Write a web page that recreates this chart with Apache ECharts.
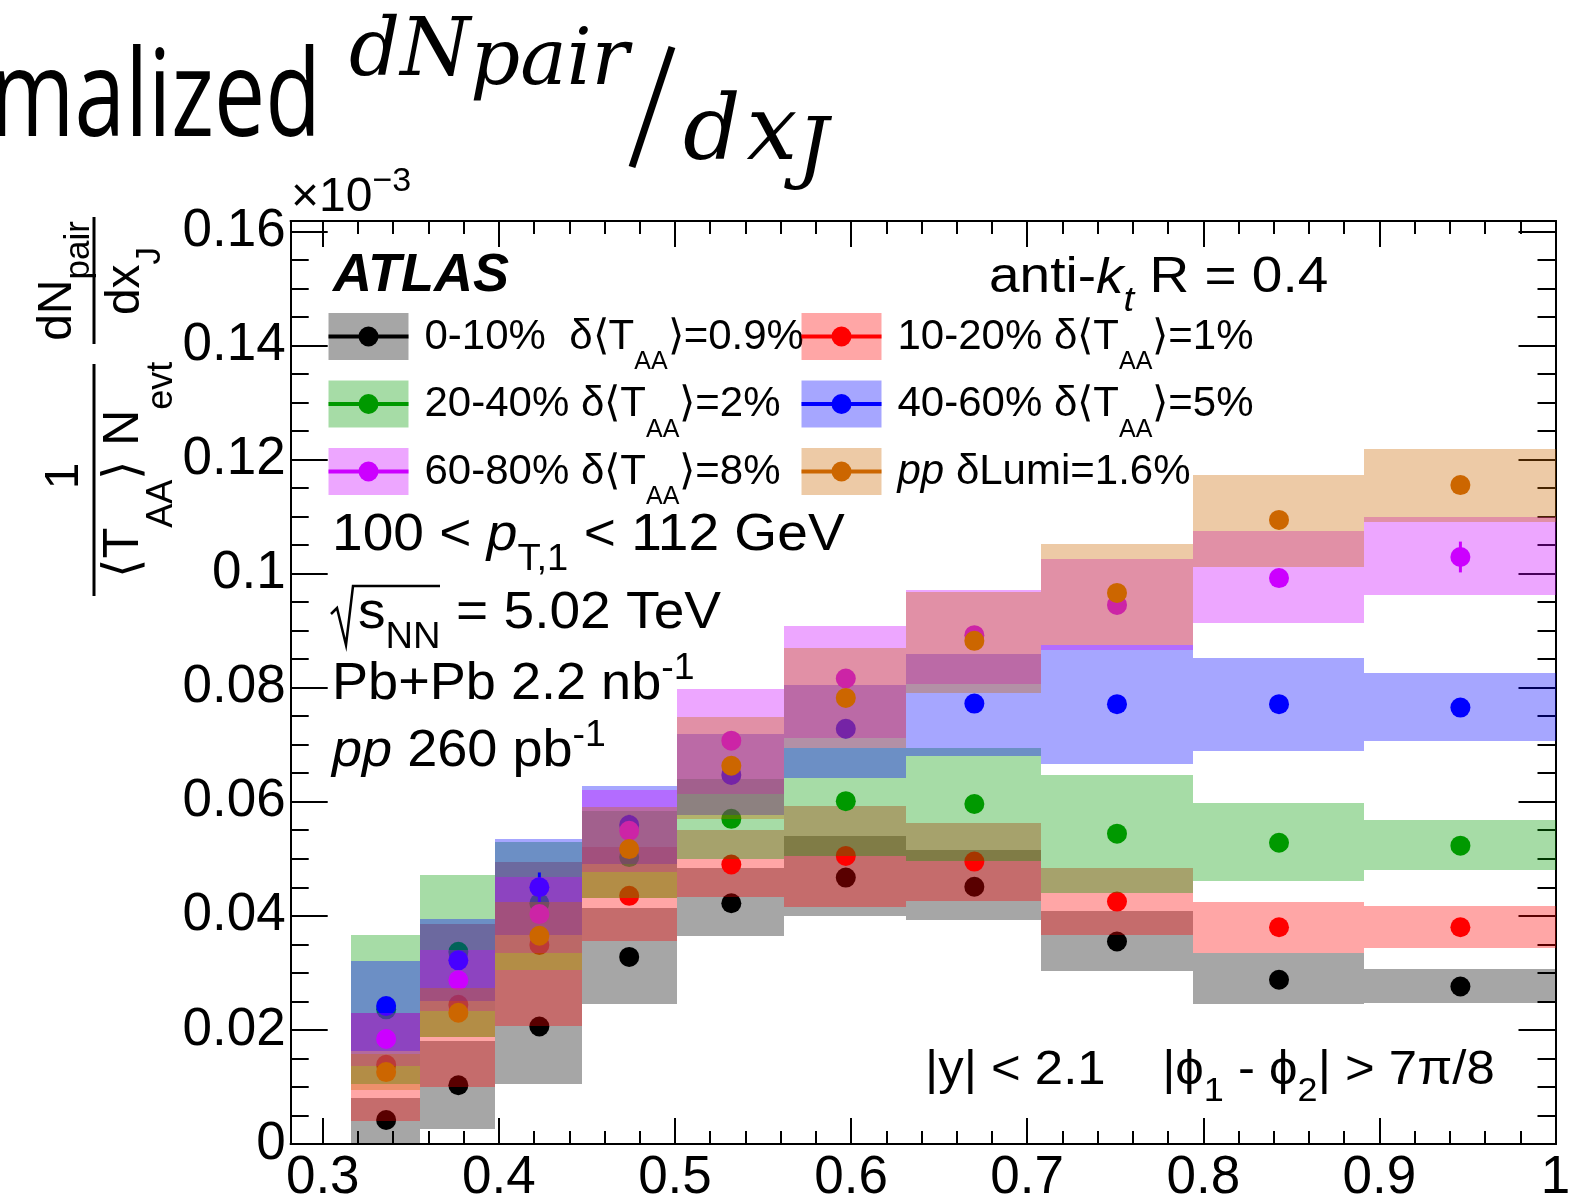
<!DOCTYPE html>
<html>
<head>
<meta charset="utf-8">
<script src="https://cdn.jsdelivr.net/npm/echarts@6/dist/echarts.min.js"></script>
<style>
html, body { margin: 0; padding: 0; background: #fff; }
#chart { width: 1585px; height: 1201px; }
</style>
</head>
<body>
<div id="chart"></div>
<script>
'use strict';

// x_J bins
var binLow    = [0.316, 0.355, 0.398, 0.447, 0.501, 0.562, 0.631, 0.708, 0.794, 0.891];
var binHigh   = [0.355, 0.398, 0.447, 0.501, 0.562, 0.631, 0.708, 0.794, 0.891, 1.000];
var binCenter = [0.336, 0.377, 0.423, 0.474, 0.532, 0.597, 0.670, 0.751, 0.843, 0.946];

// axis ticks
var xTicks      = [0.3, 0.4, 0.5, 0.6, 0.7, 0.8, 0.9, 1.0];
var xMinorTicks = [0.32, 0.34, 0.36, 0.38, 0.42, 0.44, 0.46, 0.48, 0.52, 0.54, 0.56, 0.58,
                   0.62, 0.64, 0.66, 0.68, 0.72, 0.74, 0.76, 0.78, 0.82, 0.84, 0.86, 0.88,
                   0.92, 0.94, 0.96, 0.98];
var yTicks      = [0, 0.02, 0.04, 0.06, 0.08, 0.1, 0.12, 0.14, 0.16];
var yMinorTicks = [0.005, 0.01, 0.015, 0.025, 0.03, 0.035, 0.045, 0.05, 0.055, 0.065, 0.07, 0.075,
                   0.085, 0.09, 0.095, 0.105, 0.11, 0.115, 0.125, 0.13, 0.135, 0.145, 0.15, 0.155];

// 0-10%
var val0_10  = [0.0042, 0.0103, 0.0206, 0.0328, 0.0422, 0.0467, 0.0451, 0.0355, 0.0288, 0.0276];
var low0_10  = [0.0002, 0.0027, 0.0105, 0.0245, 0.0365, 0.0400, 0.0393, 0.0303, 0.0246, 0.0247];
var high0_10 = [0.0080, 0.0181, 0.0305, 0.0413, 0.0484, 0.0540, 0.0515, 0.0409, 0.0334, 0.0307];
// 10-20%
var val10_20  = [0.0139, 0.0244, 0.0349, 0.0435, 0.0490, 0.0505, 0.0495, 0.0425, 0.0380, 0.0380];
var low10_20  = [0.0041, 0.0100, 0.0206, 0.0355, 0.0433, 0.0416, 0.0426, 0.0366, 0.0334, 0.0344];
var high10_20 = [0.0230, 0.0386, 0.0495, 0.0520, 0.0550, 0.0593, 0.0563, 0.0483, 0.0425, 0.0417];
// 20-40%
var val20_40  = [0.0236, 0.0337, 0.0422, 0.0503, 0.0570, 0.0601, 0.0596, 0.0544, 0.0528, 0.0523];
var low20_40  = [0.0105, 0.0187, 0.0305, 0.0431, 0.0499, 0.0505, 0.0496, 0.0440, 0.0461, 0.0481];
var high20_40 = [0.0366, 0.0471, 0.0529, 0.0584, 0.0639, 0.0695, 0.0695, 0.0647, 0.0597, 0.0568];
// 40-60%
var val40_60  = [0.0242, 0.0322, 0.0450, 0.0559, 0.0647, 0.0728, 0.0772, 0.0771, 0.0771, 0.0765];
var low40_60  = [0.0163, 0.0250, 0.0366, 0.0490, 0.0576, 0.0641, 0.0681, 0.0666, 0.0689, 0.0706];
var high40_60 = [0.0321, 0.0394, 0.0534, 0.0628, 0.0718, 0.0804, 0.0859, 0.0875, 0.0852, 0.0826];
var err40_60  = [0.0010, 0.0012, 0.0026, 0.0018, 0.0010, 0.0010, 0.0010, 0.0010, 0.0010, 0.0012];
// 60-80%
var val60_80  = [0.0184, 0.0287, 0.0403, 0.0549, 0.0707, 0.0816, 0.0892, 0.0945, 0.0992, 0.1029];
var low60_80  = [0.0136, 0.0234, 0.0335, 0.0476, 0.0613, 0.0712, 0.0806, 0.0866, 0.0914, 0.0962];
var high60_80 = [0.0230, 0.0340, 0.0468, 0.0620, 0.0797, 0.0908, 0.0972, 0.1025, 0.1074, 0.1099];
var err60_80  = [0.0010, 0.0012, 0.0014, 0.0012, 0.0010, 0.0010, 0.0010, 0.0012, 0.0014, 0.0027];
// pp
var valPP  = [0.0126, 0.0230, 0.0365, 0.0517, 0.0663, 0.0782, 0.0882, 0.0966, 0.1094, 0.1155];
var lowPP  = [0.0094, 0.0187, 0.0305, 0.0431, 0.0570, 0.0695, 0.0790, 0.0875, 0.1012, 0.1090];
var highPP = [0.0158, 0.0273, 0.0425, 0.0590, 0.0748, 0.0870, 0.0968, 0.1052, 0.1172, 0.1219];

var legendLabels = [
  '0-10%  δ⟨T_{AA}⟩=0.9%', '10-20% δ⟨T_{AA}⟩=1%', '20-40% δ⟨T_{AA}⟩=2%',
  '40-60% δ⟨T_{AA}⟩=5%', '60-80% δ⟨T_{AA}⟩=8%', '#it{pp} δLumi=1.6%'
];

var FONT = "'Liberation Sans', Arial, Helvetica, sans-serif";
var SERIF = "'DejaVu Serif', serif";

var sets = [
  { name: '0-10%',  val: val0_10,  low: low0_10,  high: high0_10,  err: null,     color: '#000000', band: 'rgba(0,0,0,0.35)',     col: 0, row: 0 },
  { name: '10-20%', val: val10_20, low: low10_20, high: high10_20, err: null,     color: '#ff0000', band: 'rgba(255,0,0,0.35)',   col: 1, row: 0 },
  { name: '20-40%', val: val20_40, low: low20_40, high: high20_40, err: null,     color: '#009900', band: 'rgba(0,154,0,0.35)',   col: 0, row: 1 },
  { name: '40-60%', val: val40_60, low: low40_60, high: high40_60, err: err40_60, color: '#0000ff', band: 'rgba(0,0,255,0.35)',   col: 1, row: 1 },
  { name: '60-80%', val: val60_80, low: low60_80, high: high60_80, err: err60_80, color: '#cc00ff', band: 'rgba(204,0,255,0.35)', col: 0, row: 2 },
  { name: 'pp',     val: valPP,    low: lowPP,    high: highPP,    err: null,     color: '#cc6600', band: 'rgba(204,102,0,0.35)', col: 1, row: 2 }
];

// tiny TLatex-like parser: _{sub} ^{sup} #it{italic}
function latex(str) {
  var parts = [];
  str.split(/(_\{[^}]*\}|\^\{[^}]*\}|#it\{[^}]*\})/).forEach(function (s) {
    if (!s) return;
    if (s.charAt(0) === '_') parts.push({ t: s.slice(2, -1), sub: true });
    else if (s.charAt(0) === '^') parts.push({ t: s.slice(2, -1), sup: true });
    else if (s.indexOf('#it{') === 0) parts.push({ t: s.slice(4, -1), italic: true });
    else parts.push({ t: s });
  });
  return parts;
}

// rich text placed by its baseline
function richText(x, base, size, parts, opt) {
  opt = opt || {};
  var K = 120, rich = {}, str = '';
  parts.forEach(function (p, i) {
    var s = p.size || (p.sub || p.sup ? Math.round(size * (opt.subScale || 0.7)) : size);
    var dy = p.dy != null ? p.dy : (p.sub ? size * (opt.subDy || 0.35) : (p.sup ? -size * 0.42 : 0));
    var key = 'p' + i;
    rich[key] = {
      fontFamily: p.family || opt.family || FONT,
      fontSize: s, lineHeight: s,
      fontStyle: (p.italic || opt.italic) ? 'italic' : 'normal',
      fontWeight: (p.bold || opt.bold) ? 'bold' : (opt.weight || 'normal'),
      fill: '#000', verticalAlign: 'top',
      padding: [K + dy - 0.8465 * s, 0, 0, p.gap || 0]
    };
    str += '{' + key + '|' + p.t + '}';
  });
  var el = {
    type: 'text', x: x, y: base - K, z: 100,
    style: { text: str, rich: rich, align: opt.align || 'left', verticalAlign: 'top' }
  };
  if (opt.scaleX) el.scaleX = opt.scaleX;
  return el;
}

function renderBand(color) {
  return function (params, api) {
    var a = api.coord([api.value(0), api.value(3)]);
    var b = api.coord([api.value(1), api.value(2)]);
    var x0 = Math.round(a[0]), y0 = Math.round(a[1]);
    return {
      type: 'rect',
      shape: { x: x0, y: y0, width: Math.round(b[0]) - x0, height: Math.round(b[1]) - y0 },
      style: { fill: color }
    };
  };
}

function renderErr(color) {
  return function (params, api) {
    var t = api.coord([api.value(0), api.value(1) + api.value(2)]);
    var b = api.coord([api.value(0), api.value(1) - api.value(2)]);
    return { type: 'line', shape: { x1: t[0], y1: t[1], x2: b[0], y2: b[1] },
             style: { stroke: color, lineWidth: 3 } };
  };
}

// draw order: band, stat bar, marker for each set in turn
var series = [];
sets.forEach(function (c) {
  series.push({
    type: 'custom', name: c.name + ' band', renderItem: renderBand(c.band),
    z: 2 + series.length,
    encode: { x: [0, 1], y: [2, 3] },
    data: binLow.map(function (lo, i) { return [lo, binHigh[i], c.low[i], c.high[i]]; })
  });
  if (c.err) {
    series.push({
      type: 'custom', name: c.name + ' stat', renderItem: renderErr(c.color),
      z: 2 + series.length,
      encode: { x: 0, y: 1 },
      data: binCenter.map(function (x, i) { return [x, c.val[i], c.err[i]]; })
    });
  }
  series.push({
    type: 'scatter', name: c.name, symbol: 'circle', symbolSize: 20,
    z: 2 + series.length,
    itemStyle: { color: c.color, opacity: 1 },
    data: binCenter.map(function (x, i) { return [x, c.val[i]]; })
  });
});

function axisLine() {
  return { show: true, onZero: false, lineStyle: { color: '#000', width: 2 } };
}
function xAx(pos, ticks, len, labels) {
  return {
    type: 'value', position: pos, min: 0.2818, max: 1.0, offset: 0,
    axisLine: axisLine(),
    splitLine: { show: false },
    axisTick: { show: true, inside: true, length: len, customValues: ticks, lineStyle: { color: '#000', width: 2 } },
    axisLabel: labels ? { show: true, customValues: ticks, fontFamily: FONT, fontSize: 53, lineHeight: 53,
                          color: '#000', margin: 8, formatter: function (v) { return String(v); } }
                      : { show: false }
  };
}
function yAx(pos, ticks, len, labels) {
  return {
    type: 'value', position: pos, min: 0, max: 0.1618, offset: 0,
    axisLine: axisLine(),
    splitLine: { show: false },
    axisTick: { show: true, inside: true, length: len, customValues: ticks, lineStyle: { color: '#000', width: 2 } },
    axisLabel: labels ? { show: true, customValues: ticks, fontFamily: FONT, fontSize: 53, padding: [8, 0, 0, 0],
                          color: '#000', margin: 5, formatter: function (v) { return String(v); } }
                      : { show: false }
  };
}

var graphics = [];

// slide title (cut off on the left)
graphics.push(richText(321, 143, 120, [{ t: 'Normalized' }], { family: "'Open Sans', sans-serif", align: 'right', scaleX: 0.76 }));
graphics.push(richText(349, 82, 80, [{ t: 'dN' }, { t: 'pair', size: 78, dy: 9 }], { family: SERIF, italic: true }));
graphics.push({ type: 'line', z: 100, shape: { x1: 672, y1: 47, x2: 632, y2: 167 }, style: { stroke: '#000', lineWidth: 7 } });
graphics.push(richText(683, 167, 90, [{ t: 'd' }, { t: 'x', gap: 6 }, { t: 'J', size: 78, dy: 14 }], { family: SERIF, italic: true }));

// y axis title, rotated
graphics.push({
  type: 'group', x: 94, y: 600, rotation: Math.PI / 2, z: 100,
  children: [
    { type: 'line', shape: { x1: 256, y1: 0, x2: 383, y2: 0 }, style: { stroke: '#000', lineWidth: 3 } },
    richText(319, -20, 48, [{ t: 'dN' }, { t: 'pair', size: 35, dy: 17 }], { align: 'center' }),
    richText(319, 48, 48, [{ t: 'dx' }, { t: 'J', size: 35, dy: 20 }], { align: 'center' }),
    { type: 'line', shape: { x1: 4, y1: 0, x2: 236, y2: 0 }, style: { stroke: '#000', lineWidth: 3 } },
    richText(124, -13, 48, [{ t: '1' }], { align: 'center' }),
    richText(130, 48, 50, latex('⟨T_{AA}⟩ N_{evt}'), { align: 'center', subScale: 0.72, subDy: 0.66 })
  ]
});

// x10^-3
graphics.push(richText(291, 214, 48, latex('×10^{−3}')));

// plot annotations
graphics.push(richText(333, 295, 54, [{ t: 'ATLAS' }], { bold: true, italic: true }));
graphics.push(richText(989, 296, 50, [{ t: 'anti-' }, { t: 'k', italic: true }, { t: 't', italic: true, sub: true }, { t: ' R = 0.4' }], { scaleX: 1.1 }));
graphics.push(richText(332, 554, 52, latex('100 < #it{p}_{T,1} < 112 GeV'), { scaleX: 1.06 }));
graphics.push({ type: 'polyline', z: 100, shape: { points: [[331, 614], [337, 608], [346, 645], [353, 586], [440, 586]] },
                style: { stroke: '#000', lineWidth: 2.5, fill: null } });
graphics.push(richText(358, 632, 52, latex('s_{NN} = 5.02 TeV'), { scaleX: 1.06 }));
graphics.push(richText(332, 703, 52, latex('Pb+Pb 2.2 nb^{-1}'), { scaleX: 1.04 }));
graphics.push(richText(332, 770, 52, latex('#it{pp} 260 pb^{-1}'), { scaleX: 1.04 }));
graphics.push(richText(925, 1087, 48, latex('|y| < 2.1    |ϕ_{1} - ϕ_{2}| > 7π/8'), { scaleX: 1.06 }));

// legend
var legX = [328.5, 801.5], legY = [336.5, 404, 471.5];
sets.forEach(function (c, i) {
  var x = legX[c.col], y = legY[c.row];
  graphics.push({ type: 'rect', z: 100, shape: { x: x, y: y - 23.5, width: 80, height: 47 }, style: { fill: c.band } });
  graphics.push({ type: 'line', z: 100, shape: { x1: x, y1: y, x2: x + 80, y2: y }, style: { stroke: c.color, lineWidth: 4 } });
  graphics.push({ type: 'circle', z: 100, shape: { cx: x + 40, cy: y, r: 10 }, style: { fill: c.color } });
  graphics.push(richText(x + 96, y + 15, 42, latex(legendLabels[i]), { subScale: 0.6, subDy: 0.47 }));
});

var chart = echarts.init(document.getElementById('chart'));
chart.setOption({
  animation: false,
  backgroundColor: '#fff',
  grid: { left: 290.7, right: 29.5, top: 221, bottom: 57, containLabel: false, outerBoundsMode: 'none' },
  xAxis: [
    xAx('bottom', xTicks, 26, true),
    xAx('bottom', xMinorTicks, 13, false),
    xAx('top', xTicks, 26, false),
    xAx('top', xMinorTicks, 13, false)
  ],
  yAxis: [
    yAx('left', yTicks, 37, true),
    yAx('left', yMinorTicks, 18, false),
    yAx('right', yTicks, 37, false),
    yAx('right', yMinorTicks, 18, false)
  ],
  series: series,
  graphic: { elements: graphics }
});
</script>
</body>
</html>
